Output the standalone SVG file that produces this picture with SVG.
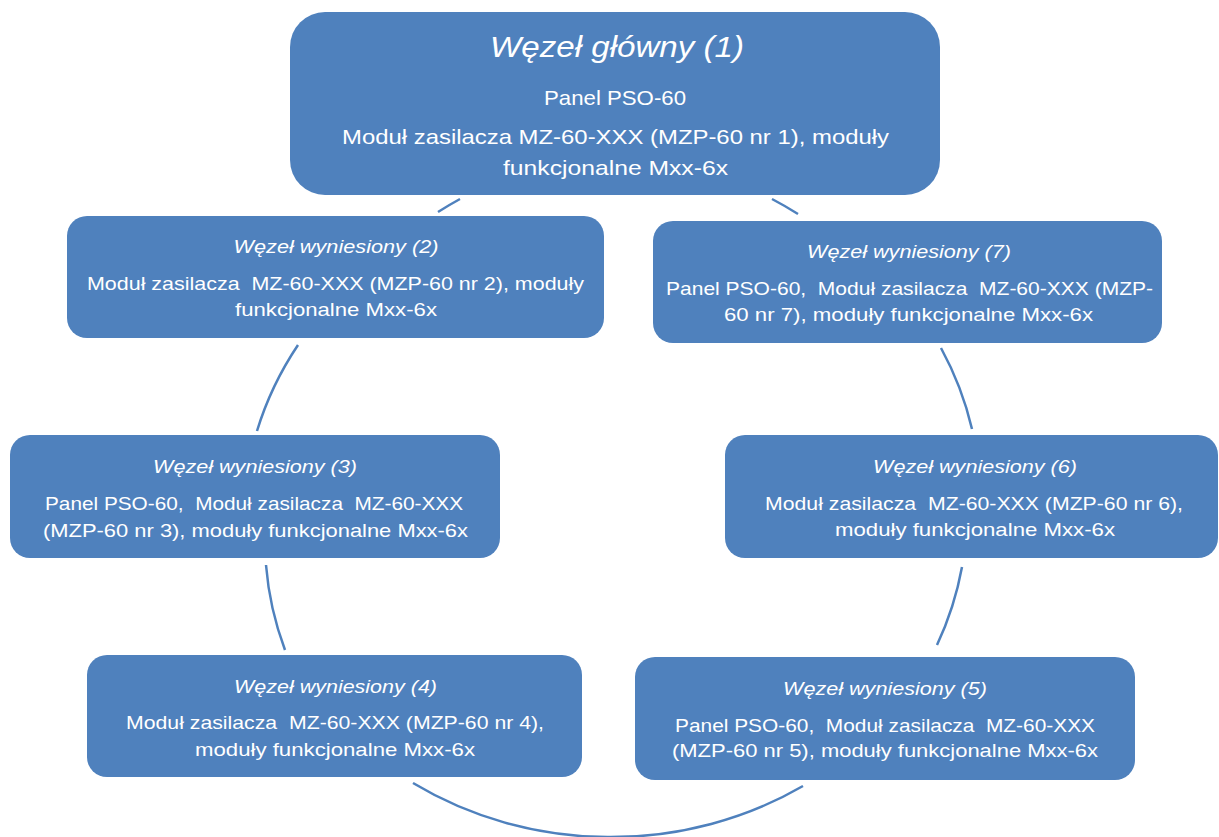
<svg xmlns="http://www.w3.org/2000/svg" width="1219" height="837" viewBox="0 0 1219 837">
<style>
.box{fill:#4F81BD;}
.t{font-family:"Liberation Sans",Arial,sans-serif;fill:#FFFFFF;text-anchor:middle;white-space:pre;}
.h{font-style:italic;font-size:19px;}
.b{font-size:19px;}
.h1{font-style:italic;font-size:29px;}
.b1{font-size:21px;}
.c{fill:none;stroke:#4F81BD;stroke-width:2.5;}
</style>
<rect width="1219" height="837" fill="#FFFFFF"/>
<g id="connectors">
<path class="c" d="M 772 199 A 363 336 0 0 1 798 214"/>
<path class="c" d="M 941 348 A 363 336 0 0 1 972 429"/>
<path class="c" d="M 962 567 A 363 336 0 0 1 937 645"/>
<path class="c" d="M 803 786 A 363 336 0 0 1 413 783"/>
<path class="c" d="M 285 650 A 363 336 0 0 1 266 565"/>
<path class="c" d="M 257 431 A 363 336 0 0 1 298 345"/>
<path class="c" d="M 438 212 A 363 336 0 0 1 460 199"/>
</g>
<g id="node1">
<rect class="box" x="290" y="12" width="650" height="183" rx="35"/>
<text class="t h1" x="617" y="57" textLength="254" lengthAdjust="spacingAndGlyphs">Węzeł główny (1)</text>
<text class="t b1" x="615" y="105" textLength="142" lengthAdjust="spacingAndGlyphs">Panel PSO-60</text>
<text class="t b1" x="615.5" y="144" textLength="547" lengthAdjust="spacingAndGlyphs">Moduł zasilacza MZ-60-XXX (MZP-60 nr 1), moduły</text>
<text class="t b1" x="615.5" y="175" textLength="225" lengthAdjust="spacingAndGlyphs">funkcjonalne Mxx-6x</text>
</g>
<g id="node2">
<rect class="box" x="67" y="216" width="537" height="122" rx="20"/>
<text class="t h" x="336" y="253" textLength="205" lengthAdjust="spacingAndGlyphs">Węzeł wyniesiony (2)</text>
<text class="t b" x="335.5" y="290" textLength="497" lengthAdjust="spacingAndGlyphs">Moduł zasilacza  MZ-60-XXX (MZP-60 nr 2), moduły</text>
<text class="t b" x="336" y="316" textLength="202" lengthAdjust="spacingAndGlyphs">funkcjonalne Mxx-6x</text>
</g>
<g id="node7">
<rect class="box" x="653" y="221" width="509" height="122" rx="20"/>
<text class="t h" x="909" y="258" textLength="204" lengthAdjust="spacingAndGlyphs">Węzeł wyniesiony (7)</text>
<text class="t b" x="909.5" y="295" textLength="487" lengthAdjust="spacingAndGlyphs">Panel PSO-60,  Moduł zasilacza  MZ-60-XXX (MZP-</text>
<text class="t b" x="908.5" y="321" textLength="369" lengthAdjust="spacingAndGlyphs">60 nr 7), moduły funkcjonalne Mxx-6x</text>
</g>
<g id="node3">
<rect class="box" x="10" y="435" width="490" height="123" rx="20"/>
<text class="t h" x="255" y="473" textLength="204" lengthAdjust="spacingAndGlyphs">Węzeł wyniesiony (3)</text>
<text class="t b" x="254" y="510" textLength="418" lengthAdjust="spacingAndGlyphs">Panel PSO-60,  Moduł zasilacza  MZ-60-XXX</text>
<text class="t b" x="255.5" y="537" textLength="425" lengthAdjust="spacingAndGlyphs">(MZP-60 nr 3), moduły funkcjonalne Mxx-6x</text>
</g>
<g id="node6">
<rect class="box" x="725" y="435" width="493" height="123" rx="20"/>
<text class="t h" x="975" y="473" textLength="204" lengthAdjust="spacingAndGlyphs">Węzeł wyniesiony (6)</text>
<text class="t b" x="974" y="510" textLength="418" lengthAdjust="spacingAndGlyphs">Moduł zasilacza  MZ-60-XXX (MZP-60 nr 6),</text>
<text class="t b" x="975" y="536" textLength="280" lengthAdjust="spacingAndGlyphs">moduły funkcjonalne Mxx-6x</text>
</g>
<g id="node4">
<rect class="box" x="87" y="655" width="495" height="122" rx="20"/>
<text class="t h" x="335.5" y="693" textLength="203" lengthAdjust="spacingAndGlyphs">Węzeł wyniesiony (4)</text>
<text class="t b" x="335" y="729" textLength="418" lengthAdjust="spacingAndGlyphs">Moduł zasilacza  MZ-60-XXX (MZP-60 nr 4),</text>
<text class="t b" x="335" y="756" textLength="280" lengthAdjust="spacingAndGlyphs">moduły funkcjonalne Mxx-6x</text>
</g>
<g id="node5">
<rect class="box" x="635" y="657" width="500" height="123" rx="20"/>
<text class="t h" x="885" y="695" textLength="204" lengthAdjust="spacingAndGlyphs">Węzeł wyniesiony (5)</text>
<text class="t b" x="885" y="732" textLength="420" lengthAdjust="spacingAndGlyphs">Panel PSO-60,  Moduł zasilacza  MZ-60-XXX</text>
<text class="t b" x="885" y="757" textLength="426" lengthAdjust="spacingAndGlyphs">(MZP-60 nr 5), moduły funkcjonalne Mxx-6x</text>
</g>
</svg>
